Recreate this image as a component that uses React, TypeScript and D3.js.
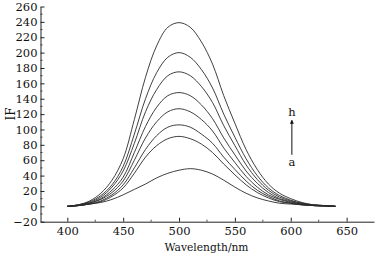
import * as d3 from 'd3';
import { useEffect, useRef } from 'react';

// wavelength grid (nm)
const wavelengths = [400, 410, 420, 430, 440, 450, 460, 470, 480, 490, 500, 510, 520,
  530, 540, 550, 560, 570, 580, 590, 600, 610, 620, 630, 640];

// fluorescence intensity, curves a..h
const curveA = [0, 1, 3, 5, 9, 15, 22, 29, 37, 43, 47, 49, 47, 42, 34, 25, 17, 11, 7, 4, 3, 2, 1, 0.5, 0];
const curveB = [0, 1, 3, 6, 13, 24, 43, 64, 79, 88, 91, 88, 81, 70, 55, 41, 28, 18, 11, 6, 4, 2, 1, 0.5, 0];
const curveC = [0, 1, 3, 7, 15, 28, 50, 74, 92, 103, 106, 103, 94, 82, 64, 48, 33, 21, 13, 7, 4, 2, 1, 0.5, 0];
const curveD = [0, 1, 4, 9, 18, 33, 60, 89, 110, 123, 127, 123, 113, 98, 76, 57, 39, 25, 15, 9, 5, 3, 1, 0.5, 0];
const curveE = [0, 1, 4, 10, 21, 38, 70, 104, 129, 144, 148, 144, 132, 114, 89, 67, 46, 30, 18, 10, 6, 3, 1, 0.5, 0];
const curveF = [0, 2, 5, 12, 25, 46, 82, 123, 152, 170, 175, 170, 156, 135, 105, 79, 54, 35, 21, 12, 7, 4, 2, 1, 0];
const curveG = [0, 2, 6, 14, 28, 52, 94, 140, 174, 194, 200, 194, 178, 154, 120, 90, 62, 40, 24, 14, 8, 4, 2, 1, 0];
const curveH = [0, 2, 7, 17, 34, 62, 113, 168, 209, 233, 239, 233, 214, 185, 144, 108, 74, 48, 29, 17, 10, 5, 2, 1, 0];

const allCurves = [curveA, curveB, curveC, curveD, curveE, curveF, curveG, curveH];

const xTicks = [400, 450, 500, 550, 600, 650];
const yTicks = [-20, 0, 20, 40, 60, 80, 100, 120, 140, 160, 180, 200, 220, 240, 260];

export default function App() {
  const svgRef = useRef(null);

  useEffect(() => {
    drawChart(svgRef.current);
  }, [svgRef]);

  return (
    <div style={{ position: 'absolute', left: 0, top: 0 }}>
      <svg ref={svgRef}></svg>
    </div>
  );
}

function drawChart(el) {
  const w = 376;
  const h = 256;
  // no Times on the box, DejaVu Serif is the closest serif
  const font = "'DejaVu Serif', serif";

  const svg = d3.select(el).attr('width', w).attr('height', h)
    .style('font-family', font);
  svg.selectAll('*').remove();
  svg.append('rect').attr('width', w).attr('height', h).attr('fill', 'white');

  const x = d3.scaleLinear().domain([376, 674.5]).range([40.5, 374]);
  const y = d3.scaleLinear().domain([-20, 260]).range([221.7, 6.5]);

  // minor ticks
  const minorX = d3.range(375, 675, 25).filter(v => v % 50 !== 0 && v > 376);
  const minorY = d3.range(-10, 260, 20);

  svg.append('g')
    .selectAll('line')
    .data(minorX)
    .enter()
    .append('line')
    .attr('x1', d => x(d)).attr('x2', d => x(d))
    .attr('y1', y(-20)).attr('y2', y(-20) - 2)
    .attr('stroke', '#222').attr('stroke-width', 0.8);

  svg.append('g')
    .selectAll('line')
    .data(minorY)
    .enter()
    .append('line')
    .attr('x1', x(376)).attr('x2', x(376) + 2)
    .attr('y1', d => y(d)).attr('y2', d => y(d))
    .attr('stroke', '#222').attr('stroke-width', 0.8);

  const xAxis = d3.axisBottom(x).tickValues(xTicks).tickSize(-4).tickSizeOuter(0).tickPadding(5);
  const yAxis = d3.axisLeft(y).tickValues(yTicks).tickSize(-4).tickSizeOuter(0).tickPadding(3);

  const gx = svg.append('g')
    .attr('transform', 'translate(0,' + y(-20) + ')')
    .call(xAxis);
  const gy = svg.append('g')
    .attr('transform', 'translate(' + x(376) + ',0)')
    .call(yAxis);

  [gx, gy].forEach(g => {
    g.attr('font-family', null);
    g.selectAll('path, line').attr('stroke', '#222').attr('stroke-width', 1);
    g.selectAll('text').style('font-family', font).attr('font-size', 11.5).attr('fill', '#111');
  });

  const line = d3.line()
    .x((d, i) => x(wavelengths[i]))
    .y(d => y(d))
    .curve(d3.curveCatmullRom.alpha(0.5));

  svg.append('g')
    .selectAll('path')
    .data(allCurves)
    .enter()
    .append('path')
    .attr('d', d => line(d))
    .attr('fill', 'none')
    .attr('stroke', '#2a2a2a')
    .attr('stroke-width', 0.9);

  // arrow a -> h
  const ax = x(601);
  svg.append('defs').append('marker')
    .attr('id', 'arr')
    .attr('viewBox', '0 0 10 10')
    .attr('refX', 9).attr('refY', 5)
    .attr('markerWidth', 4).attr('markerHeight', 6)
    .attr('orient', 'auto')
    .append('path')
    .attr('d', 'M0,0L10,5L0,10Z')
    .attr('fill', '#111');

  svg.append('line')
    .attr('x1', ax).attr('x2', ax)
    .attr('y1', y(67)).attr('y2', y(112))
    .attr('stroke', '#111').attr('stroke-width', 1)
    .attr('marker-end', 'url(#arr)');

  const label = (tx, ty, s, size) => svg.append('text')
    .attr('x', tx).attr('y', ty)
    .attr('text-anchor', 'middle')
    .style('font-family', font).attr('font-size', size)
    .attr('fill', '#111')
    .text(s);

  label(ax, y(118), 'h', 11.5);
  label(ax, y(52), 'a', 11.5);
  label(206.5, 251, 'Wavelength/nm', 11.5)
    .attr('textLength', 84).attr('lengthAdjust', 'spacingAndGlyphs');

  svg.append('text')
    .attr('transform', 'translate(15,114) rotate(-90)')
    .attr('text-anchor', 'middle')
    .style('font-family', font).attr('font-size', 12)
    .attr('fill', '#111')
    .text('IF');
}
